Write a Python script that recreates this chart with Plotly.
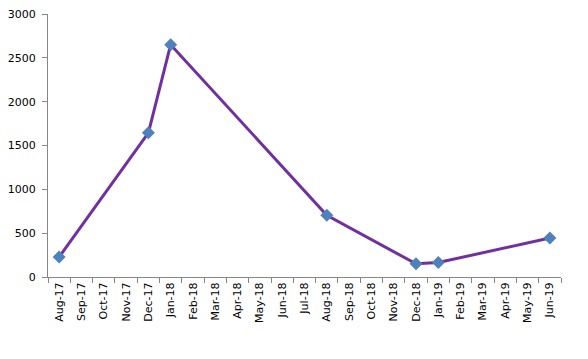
import plotly.graph_objects as go

months = ["Aug-17", "Sep-17", "Oct-17", "Nov-17", "Dec-17", "Jan-18", "Feb-18", "Mar-18",
          "Apr-18", "May-18", "Jun-18", "Jul-18", "Aug-18", "Sep-18", "Oct-18", "Nov-18",
          "Dec-18", "Jan-19", "Feb-19", "Mar-19", "Apr-19", "May-19", "Jun-19"]
x_points = ["Aug-17", "Dec-17", "Jan-18", "Aug-18", "Dec-18", "Jan-19", "Jun-19"]
y_values = [228, 1645, 2650, 705, 150, 165, 445]
y_ticks = [0, 500, 1000, 1500, 2000, 2500, 3000]

fig = go.Figure()
fig.add_trace(go.Scatter(
    x=x_points, y=y_values, mode="lines+markers",
    line=dict(color="#7030A0", width=3),
    marker=dict(symbol="diamond", size=10, color="#4F81BD", line=dict(width=0)),
))

fig.update_layout(
    width=580, height=351,
    margin=dict(l=40, r=27, t=6, b=82),
    paper_bgcolor="white", plot_bgcolor="white",
    showlegend=False,
    font=dict(family="DejaVu Sans, sans-serif", size=11, color="#000000"),
    xaxis=dict(
        type="category", categoryorder="array", categoryarray=months,
        tickmode="array", tickvals=months, ticktext=months,
        range=[-0.5, len(months) - 0.5], automargin=False,
        tickson="boundaries", ticks="outside", ticklen=5, tickcolor="#868686",
        showline=True, linecolor="#868686", linewidth=1,
        showgrid=False, zeroline=False, tickangle=-90,
        ticklabeloverflow="allow",
        tickfont=dict(size=11),
    ),
    yaxis=dict(
        range=[0, 3000], tickmode="array", tickvals=y_ticks, automargin=False,
        ticks="outside", ticklen=5, tickcolor="#868686",
        showline=True, linecolor="#868686", linewidth=1,
        showgrid=False, zeroline=False,
        ticklabeloverflow="allow", ticklabelstandoff=4,
        tickfont=dict(size=11),
    ),
)

fig.write_html("out.html")
